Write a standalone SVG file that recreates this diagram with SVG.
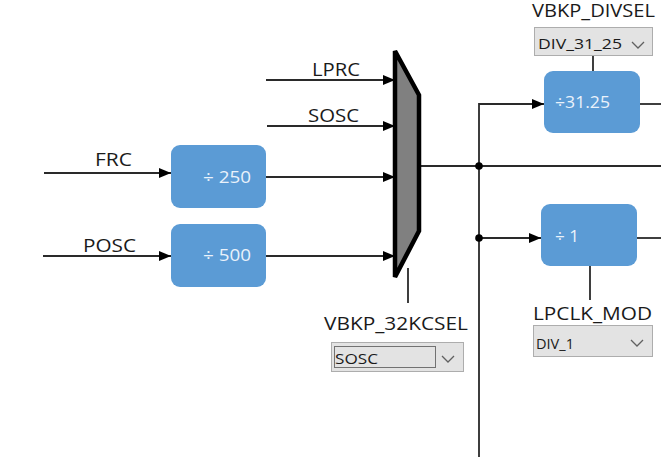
<svg xmlns="http://www.w3.org/2000/svg" width="661" height="457" viewBox="0 0 661 457">
<defs>
<marker id="arr" viewBox="0 0 12 10" refX="12" refY="5" markerWidth="12" markerHeight="10" markerUnits="userSpaceOnUse" orient="auto">
<path d="M0,0 L12,5 L0,10 Z" fill="#000"/>
</marker>
<style>
.w{stroke:#2a2a2a;stroke-width:1.8;fill:none}
.a{marker-end:url(#arr)}
.lbl{font-family:"Open Sans","Noto Sans","DejaVu Sans",sans-serif;font-size:18px;fill:#1a1a1a}
.blk{fill:#5b9bd5}
.bt{font-family:"Open Sans","Noto Sans","DejaVu Sans",sans-serif;font-size:17px;fill:#eaf2fb}
.dd{fill:#e3e3e3;stroke:#adadad;stroke-width:1}
.ddt{font-family:"Open Sans","Noto Sans","DejaVu Sans",sans-serif;font-size:15px;fill:#1a1a1a}
.chev{stroke:#606060;stroke-width:1.3;fill:none}
</style>
</defs>
<rect width="661" height="457" fill="#fff"/>
<g id="connectors">
<line class="w a" x1="266" y1="80" x2="395" y2="80"/>
<line class="w a" x1="267" y1="126" x2="395" y2="126"/>
<line class="w a" x1="44" y1="173" x2="171" y2="173"/>
<line class="w a" x1="43" y1="256" x2="171" y2="256"/>
<line class="w a" x1="266" y1="177" x2="395" y2="177"/>
<line class="w a" x1="266" y1="256" x2="395" y2="256"/>
<line class="w" x1="420" y1="166" x2="661" y2="166"/>
<line class="w" x1="408" y1="268" x2="408" y2="303"/>
<polyline class="w a" points="479,457 479,104 544,104"/>
<line class="w a" x1="479" y1="238" x2="541" y2="238"/>
<line class="w" x1="640" y1="104" x2="661" y2="104"/>
<line class="w" x1="637" y1="238" x2="661" y2="238"/>
<line class="w" x1="593" y1="55" x2="593" y2="72"/>
<line class="w" x1="590" y1="266" x2="590" y2="300"/>
<circle cx="479" cy="166" r="3.8" fill="#000"/>
<circle cx="479" cy="238" r="3.8" fill="#000"/>
</g>
<g id="lbl-lprc"><text class="lbl" x="312" y="76" textLength="48" lengthAdjust="spacingAndGlyphs">LPRC</text></g>
<g id="lbl-sosc"><text class="lbl" x="308" y="122" textLength="51" lengthAdjust="spacingAndGlyphs">SOSC</text></g>
<g id="lbl-frc"><text class="lbl" x="95" y="166" textLength="37" lengthAdjust="spacingAndGlyphs">FRC</text></g>
<g id="lbl-posc"><text class="lbl" x="83" y="252" textLength="53" lengthAdjust="spacingAndGlyphs">POSC</text></g>
<g id="div250">
<rect class="blk" x="171" y="145" width="95" height="63" rx="9"/>
<text class="bt" x="203" y="183" textLength="48" lengthAdjust="spacingAndGlyphs">÷ 250</text>
</g>
<g id="div500">
<rect class="blk" x="171" y="224" width="95" height="63" rx="9"/>
<text class="bt" x="203" y="261" textLength="48" lengthAdjust="spacingAndGlyphs">÷ 500</text>
</g>
<g id="mux">
<polygon points="395,51 419,95 419,231 395,277" fill="#808080" stroke="#000" stroke-width="4.5" stroke-linejoin="miter"/>
</g>
<g id="sel32k">
<text class="lbl" x="324" y="330" textLength="144" lengthAdjust="spacingAndGlyphs">VBKP_32KCSEL</text>
<rect class="dd" x="331.5" y="342.5" width="132" height="29"/>
<rect x="334.5" y="346.5" width="101" height="21" fill="none" stroke="#000" stroke-width="1" stroke-dasharray="1,1"/>
<text class="ddt" x="335" y="364" textLength="43" lengthAdjust="spacingAndGlyphs">SOSC</text>
<polyline class="chev" points="442,356 448,362 454,356"/>
</g>
<g id="divsel">
<text class="lbl" x="532" y="17" textLength="123" lengthAdjust="spacingAndGlyphs">VBKP_DIVSEL</text>
<rect class="dd" x="534.5" y="27.5" width="118" height="28"/>
<text class="ddt" x="538" y="49" textLength="84" lengthAdjust="spacingAndGlyphs">DIV_31_25</text>
<polyline class="chev" points="632,42 638,48 644,42"/>
</g>
<g id="div3125">
<rect class="blk" x="544" y="71" width="96" height="62" rx="9"/>
<text class="bt" x="555" y="108" textLength="55" lengthAdjust="spacingAndGlyphs">÷31.25</text>
</g>
<g id="div1">
<rect class="blk" x="541" y="204" width="96" height="62" rx="9"/>
<text class="bt" x="555" y="242" textLength="24" lengthAdjust="spacingAndGlyphs">÷ 1</text>
</g>
<g id="lpclk">
<text class="lbl" x="533" y="320" textLength="119" lengthAdjust="spacingAndGlyphs">LPCLK_MOD</text>
<rect class="dd" x="533.5" y="325.5" width="119" height="31"/>
<text class="ddt" x="536" y="349" textLength="38" lengthAdjust="spacingAndGlyphs">DIV_1</text>
<polyline class="chev" points="631,340 637,346 643,340"/>
</g>
</svg>
